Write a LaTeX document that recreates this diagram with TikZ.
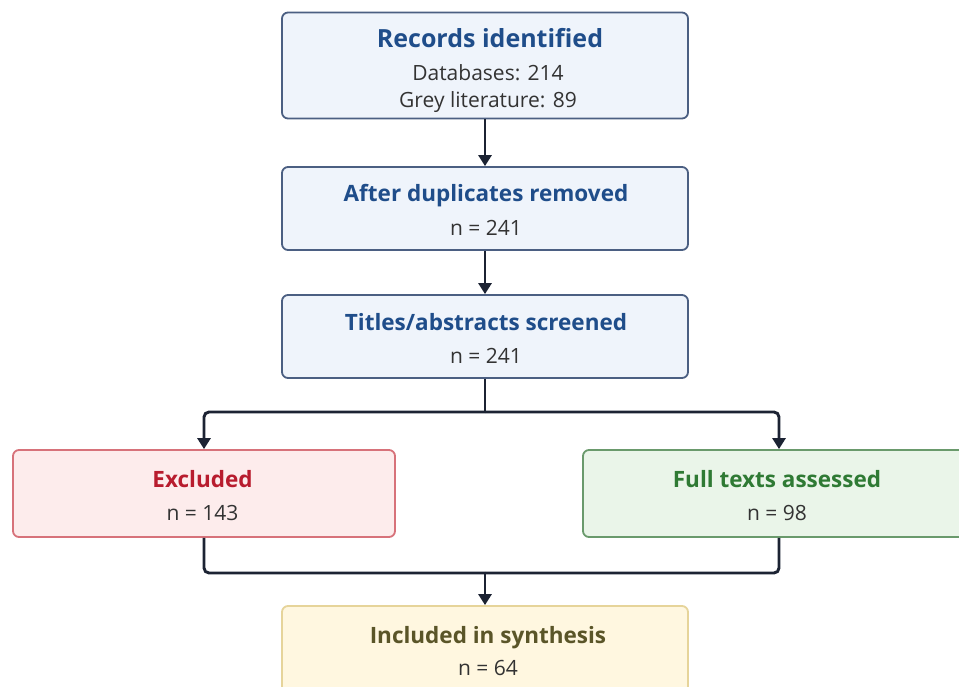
\documentclass[tikz,border=0pt]{standalone}
\usepackage{fontspec}
\setmainfont{Open Sans}
\usetikzlibrary{arrows.meta}
\definecolor{bluefill}{HTML}{EFF4FB}
\definecolor{blueedge}{HTML}{4B5F82}
\definecolor{bluetext}{HTML}{1F4D8A}
\definecolor{redfill}{HTML}{FDECEC}
\definecolor{rededge}{HTML}{D7727A}
\definecolor{redtext}{HTML}{B81C2E}
\definecolor{greenfill}{HTML}{EAF5E9}
\definecolor{greenedge}{HTML}{6A9A6C}
\definecolor{greentext}{HTML}{2F7A34}
\definecolor{yellowfill}{HTML}{FFF7E0}
\definecolor{yellowedge}{HTML}{E6D49A}
\definecolor{yellowtext}{HTML}{5A5528}
\definecolor{linecol}{HTML}{1C2333}
\definecolor{bodytext}{HTML}{333333}
\begin{document}
\begin{tikzpicture}[x=1pt,y=-1pt,
  box/.style={draw, line width=1.8pt, rounded corners=6pt, inner sep=0pt},
  titletext/.style={anchor=base, inner sep=0pt, font=\fontsize{22.5}{26}\selectfont\bfseries},
  bodytxt/.style={anchor=base, inner sep=0pt, text=bodytext, font=\fontsize{21}{24}\selectfont},
  conn/.style={draw=linecol, line width=2.9pt, rounded corners=5pt},
  tip/.style={-{Triangle[width=13pt,length=11pt]}}
]
\useasboundingbox (0,0) rectangle (959,686);
\fill[white] (0,0) rectangle (959,686);

\node[box, fill=bluefill, draw=blueedge, minimum width=406pt, minimum height=106pt] (b1) at (485,65.5) {};
\node[box, fill=bluefill, draw=blueedge, minimum width=406pt, minimum height=83pt] (b2) at (485,208.5) {};
\node[box, fill=bluefill, draw=blueedge, minimum width=406pt, minimum height=83pt] (b3) at (485,336.5) {};
\node[box, fill=redfill, draw=rededge, minimum width=382pt, minimum height=87pt] (ex) at (204,493.5) {};
\node[box, fill=greenfill, draw=greenedge, minimum width=392pt, minimum height=87pt] (ft) at (779,493.5) {};
\node[box, fill=yellowfill, draw=yellowedge, minimum width=406pt, minimum height=88pt] (inc) at (485,650) {};

\node[titletext, text=bluetext, font=\fontsize{25}{28}\selectfont\bfseries] (t1) at (490,47) {Records identified};
\node[bodytxt] (l1a) at (488,80) {Databases: 214};
\node[bodytxt] (l1b) at (488,107) {Grey literature: 89};

\node[titletext, text=bluetext] (t2) at (486,201.5) {After duplicates removed};
\node[bodytxt] (l2) at (486,235) {n = 241};

\node[titletext, text=bluetext] (t3) at (486,330) {Titles/abstracts screened};
\node[bodytxt] (l3) at (486,363) {n = 241};

\node[titletext, text=redtext] (t4) at (202.5,487) {Excluded};
\node[bodytxt] (l4) at (202.5,520) {n = 143};

\node[titletext, text=greentext] (t5) at (777,487) {Full texts assessed};
\node[bodytxt] (l5) at (777,520) {n = 98};

\node[titletext, text=yellowtext] (t6) at (488,643) {Included in synthesis};
\node[bodytxt] (l6) at (488,675) {n = 64};

\coordinate (split) at (485,412);
\coordinate (merge) at (485,573);

\draw[conn, tip] (b1.south) -- (b2.north);
\draw[conn, tip] (b2.south) -- (b3.north);
\draw[conn] (b3.south) -- (split);
\draw[conn, tip] (split) -| (ex.north);
\draw[conn, tip] (split) -| (ft.north);
\draw[conn] (ex.south) |- (merge);
\draw[conn] (ft.south) |- (merge);
\draw[conn, tip] (merge) -- (inc.north);
\end{tikzpicture}
\end{document}
